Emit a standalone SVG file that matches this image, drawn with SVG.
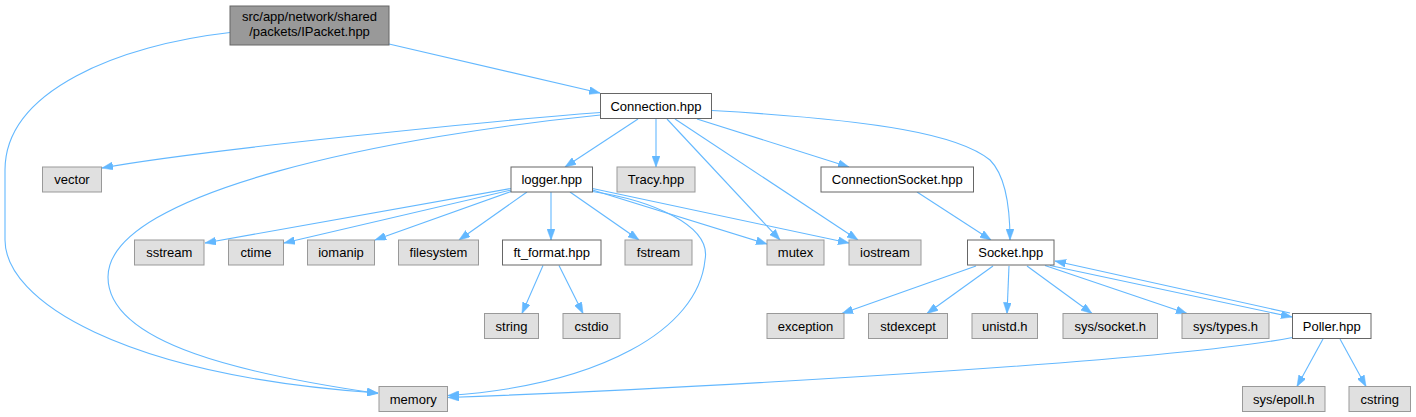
<svg xmlns="http://www.w3.org/2000/svg" width="1416" height="417" viewBox="0 0 1416 417">
<style>
.doc{fill:#ffffff;stroke:#666666;stroke-width:1}
.sys{fill:#e0e0e0;stroke:#999999;stroke-width:1}
.root{fill:#999999;stroke:#666666;stroke-width:1}
text{font-family:"Liberation Sans",Arial,Helvetica,sans-serif;font-size:13px;text-anchor:middle;fill:#000000}
.e{fill:none;stroke:#63b8ff;stroke-width:1.1;marker-end:url(#a)}
</style>
<defs>
<marker id="a" markerWidth="11" markerHeight="8" refX="11" refY="4" orient="auto" markerUnits="userSpaceOnUse">
<path d="M0,0 L11,4 L0,8 z" fill="#63b8ff" stroke="#63b8ff" stroke-width="0.5"/>
</marker>
</defs>
<rect x="0" y="0" width="1416" height="417" fill="#ffffff"/>
<g id="connectors">
<path class="e" d="M389,44 L600,93"/>
<path class="e" d="M230,32.5 C120,45 5,90 5,170 L5,240 C5,300 120,375 378,393"/>
<path class="e" d="M600.5,112.5 C500,120 200,150 102,168"/>
<path class="e" d="M600.5,115 C400,135 108,190 108,277 C108,345 250,375 378,393.5"/>
<path class="e" d="M638,119 L565,167"/>
<path class="e" d="M656,119 L656,167"/>
<path class="e" d="M667,119 L780,240"/>
<path class="e" d="M675,119 L858,240"/>
<path class="e" d="M697,119 L849,167"/>
<path class="e" d="M712,110.5 C880,120 960,135 990,160 C1005,175 1010,205 1010,240"/>
<path class="e" d="M917,192 L991,240"/>
<path class="e" d="M511,188.5 L205,243"/>
<path class="e" d="M511,190 L284,243"/>
<path class="e" d="M511,191.5 L375,240"/>
<path class="e" d="M527,192 L459,240"/>
<path class="e" d="M551,192 L551,240"/>
<path class="e" d="M570,192 L639,240"/>
<path class="e" d="M592.5,190 L767,244"/>
<path class="e" d="M592.5,188.5 L849,243"/>
<path class="e" d="M592.5,191.5 C650,200 712,225 705,260 C698,330 600,385 448,395.5"/>
<path class="e" d="M543,265.5 L522,313.5"/>
<path class="e" d="M559,265.5 L583,313.5"/>
<path class="e" d="M976,266 L842,313.5"/>
<path class="e" d="M993,266 L927,313.5"/>
<path class="e" d="M1009,266 L1007,313.5"/>
<path class="e" d="M1027,266 L1092,313.5"/>
<path class="e" d="M1045,265.5 L1187,313.5"/>
<path class="e" d="M1050,265.5 L1292,317"/>
<path class="e" d="M1290,313 L1055,261"/>
<path class="e" d="M1323,339 L1297,386.5"/>
<path class="e" d="M1340,339 L1366,386.5"/>
<path class="e" d="M1292.5,337.5 C1150,365 600,392 448,397.5"/>
</g>
<g id="n_ipacket"><rect class="root" x="230" y="6" width="159" height="39"/><text x="309.5" y="21">src/app/network/shared</text><text x="309.5" y="36">/packets/IPacket.hpp</text></g>
<g id="n_connection"><rect class="doc" x="600.5" y="93.5" width="111" height="25"/><text x="656" y="110.5">Connection.hpp</text></g>
<g id="n_vector"><rect class="sys" x="42.5" y="167" width="59" height="25"/><text x="72" y="184">vector</text></g>
<g id="n_logger"><rect class="doc" x="511" y="167" width="81.5" height="25"/><text x="551.75" y="184">logger.hpp</text></g>
<g id="n_tracy"><rect class="sys" x="617" y="167" width="78" height="25"/><text x="656" y="184">Tracy.hpp</text></g>
<g id="n_connsocket"><rect class="doc" x="821" y="167" width="152.5" height="25"/><text x="897.25" y="184">ConnectionSocket.hpp</text></g>
<g id="n_sstream"><rect class="sys" x="134.5" y="240" width="69.5" height="25"/><text x="169.25" y="257">sstream</text></g>
<g id="n_ctime"><rect class="sys" x="228.5" y="240" width="55" height="25"/><text x="256" y="257">ctime</text></g>
<g id="n_iomanip"><rect class="sys" x="307.5" y="240" width="67" height="25"/><text x="341" y="257">iomanip</text></g>
<g id="n_filesystem"><rect class="sys" x="398.5" y="240" width="80" height="25"/><text x="438.5" y="257">filesystem</text></g>
<g id="n_ftformat"><rect class="doc" x="502.5" y="240" width="98.5" height="25"/><text x="551.75" y="257">ft_format.hpp</text></g>
<g id="n_fstream"><rect class="sys" x="625" y="240" width="67" height="25"/><text x="658.5" y="257">fstream</text></g>
<g id="n_mutex"><rect class="sys" x="767" y="240" width="57" height="25"/><text x="795.5" y="257">mutex</text></g>
<g id="n_iostream"><rect class="sys" x="849" y="240" width="72" height="25"/><text x="885" y="257">iostream</text></g>
<g id="n_socket"><rect class="doc" x="967.5" y="240" width="86.5" height="25"/><text x="1010.75" y="257">Socket.hpp</text></g>
<g id="n_string"><rect class="sys" x="484.5" y="313.5" width="54" height="25"/><text x="511.5" y="330.5">string</text></g>
<g id="n_cstdio"><rect class="sys" x="563" y="313.5" width="57" height="25"/><text x="591.5" y="330.5">cstdio</text></g>
<g id="n_exception"><rect class="sys" x="767" y="313.5" width="77" height="25"/><text x="805.5" y="330.5">exception</text></g>
<g id="n_stdexcept"><rect class="sys" x="868.5" y="313.5" width="79" height="25"/><text x="908" y="330.5">stdexcept</text></g>
<g id="n_unistd"><rect class="sys" x="972" y="313.5" width="65.5" height="25"/><text x="1004.75" y="330.5">unistd.h</text></g>
<g id="n_syssocket"><rect class="sys" x="1063" y="313.5" width="94.5" height="25"/><text x="1110.25" y="330.5">sys/socket.h</text></g>
<g id="n_systypes"><rect class="sys" x="1182" y="313.5" width="87" height="25"/><text x="1225.5" y="330.5">sys/types.h</text></g>
<g id="n_poller"><rect class="doc" x="1292.5" y="313.5" width="78.5" height="25"/><text x="1331.75" y="330.5">Poller.hpp</text></g>
<g id="n_memory"><rect class="sys" x="379" y="386.5" width="68.5" height="25"/><text x="413.25" y="403.5">memory</text></g>
<g id="n_sysepoll"><rect class="sys" x="1242.5" y="386.5" width="82.5" height="25"/><text x="1283.75" y="403.5">sys/epoll.h</text></g>
<g id="n_cstring"><rect class="sys" x="1349" y="386.5" width="61.5" height="25"/><text x="1379.75" y="403.5">cstring</text></g>
</svg>
